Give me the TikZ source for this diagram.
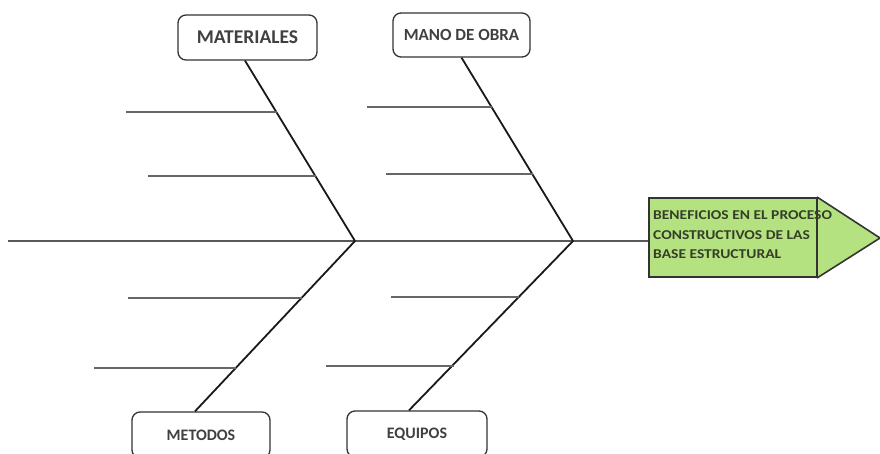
\documentclass[tikz,border=0pt]{standalone}
\usepackage{fontspec}
\setmainfont{Carlito}
\newfontfamily\effont[FakeStretch=1.15]{Carlito}
\usetikzlibrary{calc}
\definecolor{boxgreen}{RGB}{181,226,128}
\definecolor{txtgray}{RGB}{64,64,64}
\definecolor{efftxt}{RGB}{52,62,40}
\begin{document}
\begin{tikzpicture}[x=1pt,y=-1pt,
  catbox/.style={draw=black!80, line width=1.3pt, rounded corners=8pt, fill=white, text=txtgray, inner sep=0pt},
  spine/.style={draw=black!65, line width=2pt},
  bone/.style={draw=black!90, line width=1.8pt},
  rib/.style={draw=black!60, line width=2.4pt}]
\useasboundingbox (0,0) rectangle (880,454);
\clip (0,0) rectangle (880,454);

% category boxes
\node[catbox, minimum width=139pt, minimum height=45pt, font=\bfseries\fontsize{19.5}{20}\selectfont] (mat) at (247.5,37.5) {MATERIALES};
\node[catbox, minimum width=137pt, minimum height=44pt, font=\bfseries\fontsize{17}{18}\selectfont] (mob) at (461.5,35) {MANO DE OBRA};
\node[catbox, minimum width=138pt, minimum height=46pt, font=\bfseries\fontsize{16}{17}\selectfont] (met) at (201,435) {METODOS};
\node[catbox, minimum width=140pt, minimum height=46pt, font=\bfseries\fontsize{16}{17}\selectfont] (equ) at (417,434) {EQUIPOS};

% effect
\fill[boxgreen] (817,197) -- (880,238) -- (817,278) -- cycle;
\draw[black!80, line width=1.6pt] (817,197) -- (880,238) -- (817,278);
\node[draw=black!80, line width=1.6pt, fill=boxgreen, minimum width=168pt, minimum height=79pt, inner sep=0pt] (eff) at (733,237.5) {};
\node[anchor=north west, inner sep=0pt, align=left, text=efftxt, font=\effont\bfseries\fontsize{13.5}{19.5}\selectfont] (efftext) at (653,210.5) {BENEFICIOS EN EL PROCESO\\CONSTRUCTIVOS DE LAS\\BASE ESTRUCTURAL};

% spine
\coordinate (s0) at (8,241);
\coordinate (J1) at (355,241);
\coordinate (J2) at (573,241);
\draw[spine] (s0) -- (s0 -| eff.west);

% main bones
\draw[bone] ([xshift=-2.5pt]mat.south) -- (J1);
\draw[bone] (mob.south) -- (J2);
\draw[bone] ([xshift=-6pt]met.north) -- (J1);
\draw[bone] ([xshift=-8pt]equ.north) -- (J2);

% ribs
\coordinate (a1) at (126,112);  \coordinate (a1e) at (276.6,112);
\coordinate (a2) at (148,176);  \coordinate (a2e) at (315.5,176);
\coordinate (b1) at (367,107);  \coordinate (b1e) at (492.2,107);
\coordinate (b2) at (386,174);  \coordinate (b2e) at (532.6,174);
\coordinate (c1) at (128,298);  \coordinate (c1e) at (302,298);
\coordinate (c2) at (94,368);   \coordinate (c2e) at (236,368);
\coordinate (d1) at (391,297);  \coordinate (d1e) at (519,297);
\coordinate (d2) at (326,366);  \coordinate (d2e) at (453.5,366);
\foreach \p in {a1,a2,b1,b2,c1,c2,d1,d2} \draw[rib] (\p) -- (\p e);
\end{tikzpicture}
\end{document}
